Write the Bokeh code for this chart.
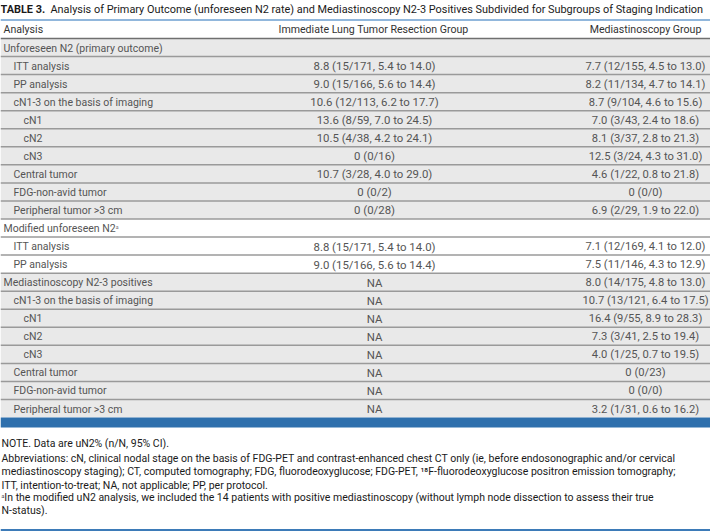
from bokeh.plotting import figure
from bokeh.models import Range1d, ColumnDataSource
from bokeh.core.properties import value
from bokeh.embed import file_html
from bokeh.resources import INLINE

title_bold = "TABLE 3."
title_rest = ("Analysis of Primary Outcome (unforeseen N2 rate) and Mediastinoscopy N2-3 "
              "Positives Subdivided for Subgroups of Staging Indication")
headers = ["Analysis", "Immediate Lung Tumor Resection Group", "Mediastinoscopy Group"]

analysis = [
    "Unforeseen N2 (primary outcome)", "ITT analysis", "PP analysis",
    "cN1-3 on the basis of imaging", "cN1", "cN2", "cN3", "Central tumor",
    "FDG-non-avid tumor", "Peripheral tumor >3 cm",
    "Modified unforeseen N2\u1d43", "ITT analysis", "PP analysis",
    "Mediastinoscopy N2-3 positives", "cN1-3 on the basis of imaging", "cN1", "cN2", "cN3",
    "Central tumor", "FDG-non-avid tumor", "Peripheral tumor >3 cm",
]
level = [0, 1, 1, 1, 2, 2, 2, 1, 1, 1,
         0, 1, 1,
         0, 1, 2, 2, 2, 1, 1, 1]
section = [0] * 10 + [1] * 3 + [2] * 8
immediate = [
    "", "8.8 (15/171, 5.4 to 14.0)", "9.0 (15/166, 5.6 to 14.4)", "10.6 (12/113, 6.2 to 17.7)",
    "13.6 (8/59, 7.0 to 24.5)", "10.5 (4/38, 4.2 to 24.1)", "0 (0/16)", "10.7 (3/28, 4.0 to 29.0)",
    "0 (0/2)", "0 (0/28)",
    "", "8.8 (15/171, 5.4 to 14.0)", "9.0 (15/166, 5.6 to 14.4)",
    "NA", "NA", "NA", "NA", "NA", "NA", "NA", "NA",
]
mediastinoscopy = [
    "", "7.7 (12/155, 4.5 to 13.0)", "8.2 (11/134, 4.7 to 14.1)", "8.7 (9/104, 4.6 to 15.6)",
    "7.0 (3/43, 2.4 to 18.6)", "8.1 (3/37, 2.8 to 21.3)", "12.5 (3/24, 4.3 to 31.0)",
    "4.6 (1/22, 0.8 to 21.8)", "0 (0/0)", "6.9 (2/29, 1.9 to 22.0)",
    "", "7.1 (12/169, 4.1 to 12.0)", "7.5 (11/146, 4.3 to 12.9)",
    "8.0 (14/175, 4.8 to 13.0)", "10.7 (13/121, 6.4 to 17.5)", "16.4 (9/55, 8.9 to 28.3)",
    "7.3 (3/41, 2.5 to 19.4)", "4.0 (1/25, 0.7 to 19.5)", "0 (0/23)", "0 (0/0)",
    "3.2 (1/31, 0.6 to 16.2)",
]
footnotes = [
    "NOTE. Data are uN2% (n/N, 95% CI).",
    "Abbreviations: cN, clinical nodal stage on the basis of FDG-PET and contrast-enhanced chest CT only (ie, before endosonographic and/or cervical",
    "mediastinoscopy staging); CT, computed tomography; FDG, fluorodeoxyglucose; FDG-PET, \u00b9\u2078F-fluorodeoxyglucose positron emission tomography;",
    "ITT, intention-to-treat; NA, not applicable; PP, per protocol.",
    "\u1d43In the modified uN2 analysis, we included the 14 patients with positive mediastinoscopy (without lymph node dissection to assess their true",
    "N-status).",
]

W, H = 710, 532
p = figure(width=W, height=H, x_range=Range1d(0, W), y_range=Range1d(H, 0),
           output_backend="svg", toolbar_location=None, min_border=0)
p.axis.visible = False
p.grid.visible = False
p.outline_line_color = None
p.background_fill_color = "white"
p.border_fill_color = "white"

FONT = value("Roboto")
row_h = 18.05
table_top = 38
n = len(analysis)
tops = [table_top + i * row_h for i in range(n)]
bottoms = [t + row_h for t in tops]
centers = [t + row_h / 2 + 0.5 for t in tops]
bg = ["#ffffff" if s == 1 else "#e9e9e9" for s in section]

# row backgrounds
p.quad(left=0, right=W, top=tops, bottom=bottoms, fill_color=bg, line_color=None)

# separators
p.segment(x0=0, x1=W, y0=bottoms[:-1], y1=bottoms[:-1], line_color="#9a9a9a", line_width=1.5)
p.segment(x0=[0], x1=[W], y0=[table_top], y1=[table_top], line_color="#6f6f6f", line_width=1.5)
# title rule
p.segment(x0=[0], x1=[W], y0=[19.5], y1=[19.5], line_color="#6d9fd0", line_width=1.5)
# thick band
band_top = bottoms[-1]
p.quad(left=[0], right=[W], top=[band_top], bottom=[band_top + 10], fill_color="#2f70ad", line_color=None)
# bottom rule
p.segment(x0=[0], x1=[W], y0=[529.5], y1=[529.5], line_color="#3d7bb8", line_width=2)

# title
p.text(x=[0], y=[9], text=[title_bold], text_font=FONT, text_font_style="bold",
       text_font_size="10.9px", text_color="#1a1a1a", text_baseline="middle")
p.text(x=[50], y=[9], text=[title_rest], text_font=FONT,
       text_font_size="10.9px", text_color="#1a1a1a", text_baseline="middle")

# header
p.text(x=[3], y=[29], text=[headers[0]], text_font=FONT, text_font_size="10.6px",
       text_color="#333333", text_baseline="middle")
p.text(x=[373, 645], y=[29, 29], text=headers[1:], text_font=FONT, text_font_size="10.6px",
       text_color="#333333", text_baseline="middle", text_align="center")

# body
src = ColumnDataSource(dict(
    x=[3 + 10 * l for l in level], y=centers, a=analysis, b=immediate, c=mediastinoscopy,
    xb=[374] * n, xc=[645] * n))
p.text(x="x", y="y", text="a", source=src, text_font=FONT, text_font_size="10.5px",
       text_color="#555555", text_baseline="middle")
p.text(x="xb", y="y", text="b", source=src, text_font=FONT, text_font_size="11.4px",
       text_color="#555555", text_baseline="middle", text_align="center")
p.text(x="xc", y="y", text="c", source=src, text_font=FONT, text_font_size="11.2px",
       text_color="#555555", text_baseline="middle", text_align="center")

# footnotes
fy = [443, 457.5, 471, 484.5, 497, 510]
p.text(x=[1] * len(footnotes), y=fy, text=footnotes, text_font=FONT, text_font_size="10.5px",
       text_color="#1a1a1a", text_baseline="middle")

open("out.html", "w").write(file_html(p, INLINE))
